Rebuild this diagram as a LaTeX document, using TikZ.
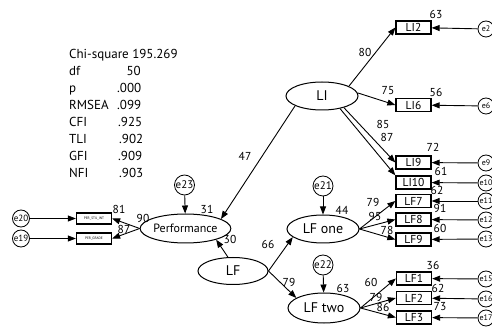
\documentclass[tikz,border=0pt]{standalone}
\usepackage{fontspec}
\setmainfont{PT Sans}
\usetikzlibrary{arrows.meta,shapes.geometric}
\tikzset{
  lat/.style={draw, ellipse, line width=1pt, inner sep=0pt, font=\fontsize{14}{14}\selectfont},
  obs/.style={draw, rectangle, line width=1.3pt, inner sep=0pt, minimum width=35pt, minimum height=13pt, font=\fontsize{11.5}{11.5}\selectfont},
  tinyobs/.style={draw, rectangle, line width=1.3pt, inner sep=0pt, minimum width=35pt, minimum height=11pt, font=\fontsize{3.5}{3.5}\selectfont},
  err/.style={draw, circle, line width=0.8pt, inner sep=0pt, minimum size=16pt, font=\fontsize{8}{8}\selectfont},
  bigerr/.style={draw, circle, line width=0.8pt, inner sep=0pt, minimum size=20pt, font=\fontsize{11}{11}\selectfont},
  arr/.style={-{Triangle[length=8pt,width=6pt]}, line width=0.9pt},
  num/.style={inner sep=0pt, font=\fontsize{11.5}{11.5}\selectfont},
  stat/.style={inner sep=0pt, anchor=base west, font=\fontsize{13}{13}\selectfont}
}
\begin{document}
\begin{tikzpicture}[x=1pt,y=-1pt]
\useasboundingbox (0,0) rectangle (492,328);
% fit statistics
\node[stat] (s1) at (69,59) {Chi-square 195.269};
\node[stat] (s2) at (69,76) {df};
\node[stat, anchor=base east] (s2v) at (141,76) {50};
\node[stat] (s3) at (69,93) {p};
\node[stat] (s3v) at (117,93) {.000};
\node[stat] (s4) at (69,110) {RMSEA};
\node[stat] (s4v) at (117,110) {.099};
\node[stat] (s5) at (69,127) {CFI};
\node[stat] (s5v) at (118,127) {.925};
\node[stat] (s6) at (69,144) {TLI};
\node[stat] (s6v) at (119,144) {.902};
\node[stat] (s7) at (69,161) {GFI};
\node[stat] (s7v) at (118,161) {.909};
\node[stat] (s8) at (69,178) {NFI};
\node[stat] (s8v) at (119,178) {.903};
% latent variables
\node[lat, minimum width=72pt, minimum height=28pt] (LI) at (322,96) {LI};
\node[lat, minimum width=73pt, minimum height=29pt, font=\fontsize{12}{12}\selectfont] (Perf) at (185.5,228.5) {Performance};
\node[lat, minimum width=70pt, minimum height=27pt] (LF) at (233,271) {LF};
\node[lat, minimum width=72pt, minimum height=28pt] (LFone) at (323,229) {LF one};
\node[lat, minimum width=72pt, minimum height=30pt] (LFtwo) at (324,308) {LF two};
% observed variables
\node[obs] (LI2) at (413.5,27.5) {LI2};
\node[obs] (LI6) at (413.5,105) {LI6};
\node[obs] (LI9) at (413.5,162.5) {LI9};
\node[obs] (LI10) at (413.5,182.5) {LI10};
\node[obs] (LF7) at (413.5,201) {LF7};
\node[obs] (LF8) at (413.5,219.5) {LF8};
\node[obs] (LF9) at (413.5,239.5) {LF9};
\node[obs] (LF1) at (414,278.5) {LF1};
\node[obs] (LF2) at (414,298) {LF2};
\node[obs] (LF3) at (414,317.5) {LF3};
\node[tinyobs] (PSI) at (94,218.5) {PER\_STU\_INT};
\node[tinyobs] (PGR) at (94,238.5) {PER\_GRADE};
% error terms
\node[err] (e2) at (486,29) {e2};
\node[err] (e6) at (486,106) {e6};
\node[err] (e9) at (486,163) {e9};
\node[err] (e10) at (486,183) {e10};
\node[err] (e11) at (486,201) {e11};
\node[err] (e12) at (486,220) {e12};
\node[err] (e13) at (486,239) {e13};
\node[err] (e15) at (486,279) {e15};
\node[err] (e16) at (486,299) {e16};
\node[err] (e17) at (486,318) {e17};
\node[err, minimum size=17pt, font=\fontsize{9}{9}\selectfont] (e20) at (21,218.5) {e20};
\node[err, minimum size=17pt, font=\fontsize{9}{9}\selectfont] (e19) at (21,238.5) {e19};
\node[bigerr] (e23) at (184.5,185) {e23};
\node[bigerr] (e21) at (323,186) {e21};
\node[bigerr] (e22) at (323,265) {e22};
% paths
\draw[arr] (LI.20) -- (LI2.west);
\draw[arr] (LI.5) -- (LI6.west);
\draw[arr] (LI.-28) -- (LI9.west);
\draw[arr] (LI.-35) -- (LI10.north west);
\draw[arr] (LI.200) -- (Perf.15);
\draw[arr] (LF.110) -- (Perf.-20);
\draw[arr] (LF.east) -- (LFone.195);
\draw[arr] (LF.east) -- (LFtwo.160);
\draw[arr] (e23) -- (Perf);
\draw[arr] (e21) -- (LFone);
\draw[arr] (e22) -- (LFtwo);
\draw[arr] (LFone.east) -- (LF7.west);
\draw[arr] (LFone.east) -- (LF8.west);
\draw[arr] (LFone.east) -- (LF9.west);
\draw[arr] (LFtwo.east) -- (LF1.west);
\draw[arr] (LFtwo.east) -- (LF2.west);
\draw[arr] (LFtwo.east) -- (LF3.west);
\draw[arr] (Perf.west) -- (PSI.east);
\draw[arr] (Perf.west) -- (PGR.east);
\draw[arr] (e20) -- (PSI);
\draw[arr] (e19) -- (PGR);
\foreach \e/\b in {e2/LI2,e6/LI6,e9/LI9,e10/LI10,e11/LF7,e12/LF8,e13/LF9,e15/LF1,e16/LF2,e17/LF3}
  \draw[arr] (\e) -- (\b);
% estimates
\node[num] (n63a) at (436,14) {63};
\node[num] (n80) at (365,52) {80};
\node[num] (n75) at (388,91) {75};
\node[num] (n56) at (436,92) {56};
\node[num] (n85) at (383,124) {85};
\node[num] (n87a) at (387,137) {87};
\node[num] (n72) at (433,147) {72};
\node[num] (n61) at (441,171) {61};
\node[num] (n62a) at (437,190) {62};
\node[num] (n91) at (440,208) {91};
\node[num] (n60a) at (440,228) {60};
\node[num] (n79a) at (373,202) {79};
\node[num] (n95) at (375,216) {95};
\node[num] (n78) at (387,230) {78};
\node[num] (n44) at (342,210) {44};
\node[num] (n66) at (268,244) {66};
\node[num] (n79b) at (289,282) {79};
\node[num] (n63b) at (343,288) {63};
\node[num] (n60b) at (371,282) {60};
\node[num] (n79c) at (376,297) {79};
\node[num] (n86) at (383,307) {86};
\node[num] (n36) at (433,265) {36};
\node[num] (n62b) at (438,288) {62};
\node[num] (n73) at (440,307) {73};
\node[num] (n47) at (245,156) {47};
\node[num] (n31) at (207,209) {31};
\node[num] (n30) at (230,239) {30};
\node[num] (n90) at (143,218) {90};
\node[num] (n81) at (119,209) {81};
\node[num] (n87b) at (124,229) {87};
\end{tikzpicture}
\end{document}
